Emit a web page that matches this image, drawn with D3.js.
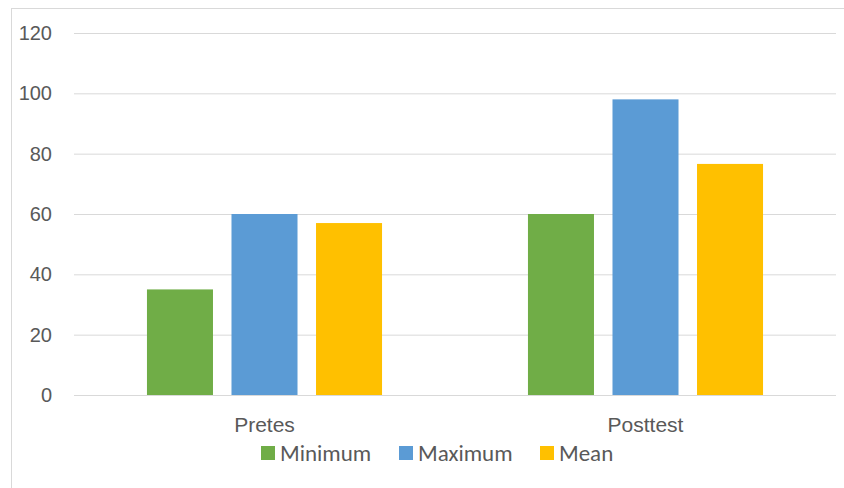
<!DOCTYPE html>
<html>
<head>
<meta charset="utf-8">
<script src="https://cdn.jsdelivr.net/npm/d3@7"></script>
<style>
  body { margin: 0; background: #fff; }
  svg { display: block; font-family: Carlito, Calibri, Lato, sans-serif; }
</style>
</head>
<body>
<svg width="844" height="488"></svg>
<script>
// values
var categories = ["Pretes", "Posttest"];
var series = ["Minimum", "Maximum", "Mean"];
var colors = ["#70ad47", "#5b9bd5", "#ffc000"];
var minimum = [35, 60];
var maximum = [60, 98];
var mean = [57, 76.6];
var yTicks = [0, 20, 40, 60, 80, 100, 120];

var values = [minimum, maximum, mean];

var svg = d3.select("svg");

// outer chart border
svg.append("rect")
  .attr("x", 11.5).attr("y", 8.5)
  .attr("width", 1000).attr("height", 1000)
  .attr("fill", "none").attr("stroke", "#d9d9d9");

var margin = {top: 33, right: 8, bottom: 93, left: 74},
    width = 844 - margin.left - margin.right,
    height = 488 - margin.top - margin.bottom;

var g = svg.append("g")
  .attr("transform", "translate(" + margin.left + "," + margin.top + ")");

var y = d3.scaleLinear().domain([0, 120]).range([height, 0]);

var x0 = d3.scaleBand().domain(categories).range([0, width])
  .paddingInner(0.383).paddingOuter(0.1915);

var x1 = d3.scaleBand().domain(series).range([0, x0.bandwidth()])
  .paddingInner(0.219);

// y axis with gridlines
var yAxis = g.append("g")
  .call(d3.axisLeft(y).tickValues(yTicks).tickSize(-width).tickPadding(22));
yAxis.select(".domain").remove();
yAxis.selectAll(".tick line").attr("stroke", "#d9d9d9").attr("stroke-width", 1);
yAxis.selectAll(".tick text").attr("fill", "#595959").style("font-size", "20px");

// bars
var group = g.selectAll(".grp")
  .data(categories)
  .enter().append("g")
  .attr("class", "grp")
  .attr("transform", function(d) { return "translate(" + x0(d) + ",0)"; });

group.selectAll("rect")
  .data(function(d, i) {
    return series.map(function(s, j) { return {s: s, v: values[j][i], c: colors[j]}; });
  })
  .enter().append("rect")
  .attr("x", function(d) { return x1(d.s); })
  .attr("y", function(d) { return y(d.v); })
  .attr("width", x1.bandwidth())
  .attr("height", function(d) { return height - y(d.v); })
  .attr("fill", function(d) { return d.c; });

// x axis labels
var xAxis = g.append("g")
  .attr("transform", "translate(0," + height + ")")
  .call(d3.axisBottom(x0).tickSize(0).tickPadding(22));
xAxis.select(".domain").remove();
xAxis.selectAll(".tick text").attr("fill", "#595959").style("font-size", "21px");

// legend
var legendX = [261, 399, 540];
var legend = svg.append("g").selectAll("g")
  .data(series)
  .enter().append("g")
  .attr("transform", function(d, i) { return "translate(" + legendX[i] + ",446)"; });

legend.append("rect")
  .attr("width", 14).attr("height", 14)
  .attr("fill", function(d, i) { return colors[i]; });

legend.append("text")
  .attr("x", 19).attr("y", 14.5)
  .attr("fill", "#595959")
  .style("font-size", "23px")
  .text(function(d) { return d; });
</script>
</body>
</html>
